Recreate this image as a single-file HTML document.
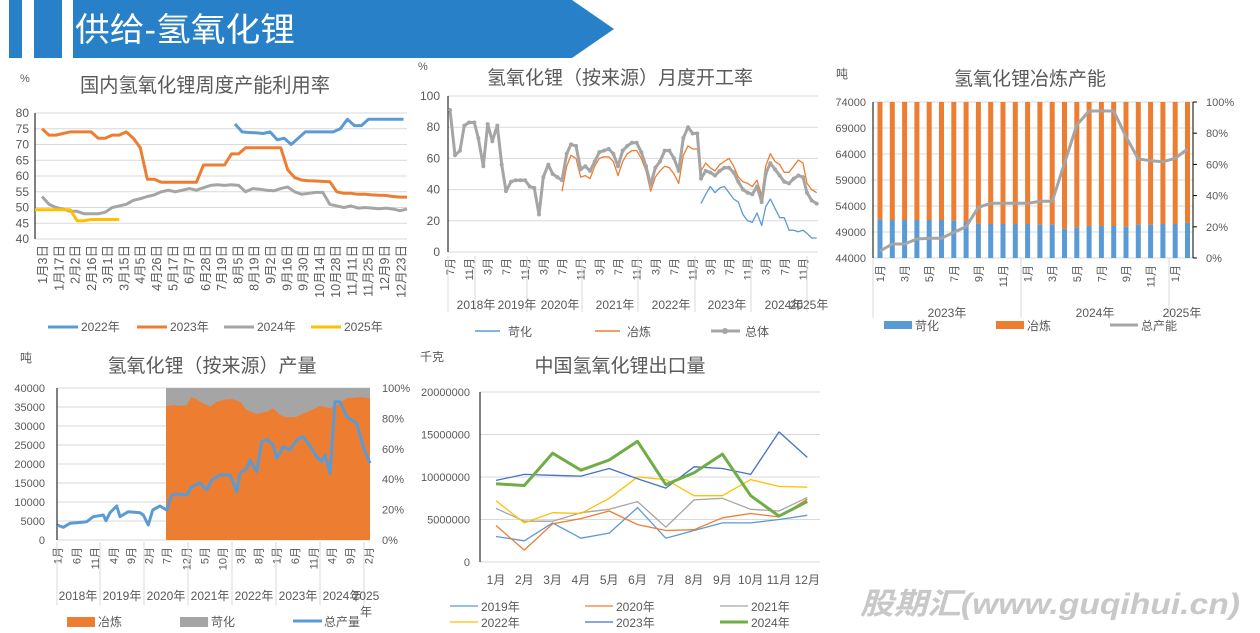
<!DOCTYPE html>
<html><head><meta charset="utf-8">
<style>
body{margin:0;width:1260px;height:633px;background:#fff;overflow:hidden;font-family:"Liberation Sans","Noto Sans CJK SC",sans-serif;}
svg{position:absolute;left:0;top:0}
</style></head><body>
<svg id="s" width="1260" height="633" xmlns="http://www.w3.org/2000/svg" font-family="Liberation Sans, Noto Sans CJK SC, sans-serif">
<rect x="9" y="0" width="13" height="58" fill="#2880c8"/>
<rect x="34" y="0" width="28" height="58" fill="#2880c8"/>
<polygon points="73,0 572,0 614,29 572,58 73,58" fill="#2880c8"/>
<text x="75" y="41" font-size="33" fill="#fff" textLength="220" lengthAdjust="spacingAndGlyphs">供给-氢氧化锂</text>
<text x="860" y="614" font-size="30" font-weight="bold" font-style="italic" fill="#c8c8c8" textLength="380" lengthAdjust="spacingAndGlyphs">股期汇(www.guqihui.cn)</text>
</svg>
<script>
const S=document.getElementById('s');let H='';
function T(x,y,t,sz,c,anc,extra){H+=`<text x="${x}" y="${y}" font-size="${sz||11}" fill="${c||'#595959'}" text-anchor="${anc||'start'}" ${extra||''}>${t}</text>`;}
function L(x1,y1,x2,y2,c,w){H+=`<line x1="${x1}" y1="${y1}" x2="${x2}" y2="${y2}" stroke="${c}" stroke-width="${w||1}"/>`;}
function P(pts,c,w){H+=`<polyline points="${pts.map(p=>p[0].toFixed(1)+','+p[1].toFixed(1)).join(' ')}" fill="none" stroke="${c}" stroke-width="${w}" stroke-linejoin="round"/>`;}
function R(x,y,w,h,c){H+=`<rect x="${x}" y="${y}" width="${w}" height="${h}" fill="${c}"/>`;}
function VT(x,y,t,sz){H+=`<text x="${x}" y="${y}" font-size="${sz||11}" fill="#595959" text-anchor="end" transform="rotate(-90 ${x} ${y})">${t}</text>`;}
// Chart1
T(20,82,'%',11);T(205,92,'国内氢氧化锂周度产能利用率',20,'#595959','middle','textLength="250" lengthAdjust="spacingAndGlyphs"');
{const y0=239,k=3.15;const Y=v=>y0-(v-40)*k;
for(let v=40;v<=80;v+=5){L(35,Y(v),407,Y(v),'#d9d9d9');T(29,Y(v)+4,v,12,'#595959','end');}
L(35,113,35,239,'#000');
const X=i=>42+i*7.02;
const labs=['1月3日','1月17日','2月2日','2月16日','3月1日','3月15日','4月5日','4月26日','5月17日','6月7日','6月28日','7月19日','8月5日','8月19日','9月2日','9月16日','9月30日','10月14日','10月28日','11月11日','11月25日','12月9日','12月23日'];
labs.forEach((l,j)=>VT(X(j*2.32)+5,245,l,12.5));
const o=[75,73,73,73.5,74,74,74,74,72,72,73,73,74,72,69,59,59,58,58,58,58,58,58,63.5,63.5,63.5,63.5,67,67,69,69,69,69,69,69,62,59.5,58.7,58.5,58.4,58.3,58.2,55,54.5,54.5,54.2,54.2,54,53.9,53.8,53.5,53.3,53.3];
const b=[76.5,74,73.8,73.7,73.5,74,71.5,72,70,72,74,74,74,74,74,75,78,76,76,78,78,78,78,78,78];
const g=[53.5,51,50,49.5,48.8,48.8,48,48,48,48.5,50,50.5,51,52.3,52.8,53.5,54,55,55.5,55,55.5,56,55.5,56.3,57,57.2,57,57.2,57,55,56,55.8,55.5,55.3,56,56.5,55,54.2,54.5,54.8,54.8,51,50.5,50,50.5,49.8,50,49.8,49.6,49.8,49.5,49,49.5];
const yl=[49.3,49.3,49.3,49.3,49.3,45.8,45.8,46.2,46.2,46.2,46.2,46.2];
P(g.map((v,i)=>[X(i),Y(v)]),'#a5a5a5',3);
P(o.map((v,i)=>[X(i),Y(v)]),'#ed7d31',3);
P(b.map((v,i)=>[X(i+27.5),Y(v)]),'#5b9bd5',3);
P(yl.map((v,i)=>[X(i)-(i==0?7:0),Y(v)]),'#ffc000',3);
[['2022年','#5b9bd5',48],['2023年','#ed7d31',137],['2024年','#a5a5a5',224],['2025年','#ffc000',311]].forEach(a=>{L(a[2],327,a[2]+30,327,a[1],3);T(a[2]+33,331,a[0],12);});
}
// Chart2
T(418,70,'%',11);T(620,84,'氢氧化锂（按来源）月度开工率',19,'#595959','middle');
{const Y=v=>252-v*1.56;
for(let v=0;v<=100;v+=20){L(448,Y(v),818,Y(v),'#d9d9d9');T(440,Y(v)+4,v,12,'#595959','end');}
L(448,96,448,252,'#000');
const X=z=>415+z/3;
const gz=[[105,91],[120,62],[135,65],[148,81],[162,83],[178,83],[190,73],[205,55],[218,82],[232,71],[247,81],[260,56],[273,39],[288,45],[302,46],[316,46],[330,46],[344,42],[358,41],[372,24],[385,48],[400,56],[413,50],[427,48],[441,46],[455,63],[468,69],[483,68],[497,53],[511,55],[525,52],[539,58],[553,64],[567,65],[581,66],[595,63],[609,55],[623,65],[637,68],[651,70],[665,70],[679,64],[693,55],[707,43],[721,54],[735,58],[749,65],[763,65],[777,60],[791,52],[805,73],[819,80],[833,76],[847,76],[858,47],[872,52],[886,51],[900,49],[914,52],[928,54],[942,54],[956,51],[970,45],[984,40],[998,38],[1012,37],[1026,42],[1040,32],[1052,50],[1066,57],[1080,53],[1094,49],[1108,45],[1122,44],[1136,47],[1150,49],[1164,48],[1176,38],[1190,33],[1205,31]];
const oz=[[441,39],[455,55],[468,62],[483,60],[497,48],[511,49],[525,47],[539,55],[553,60],[567,61],[581,61],[595,58],[609,49],[623,58],[637,63],[651,65],[665,65],[679,60],[693,52],[707,39],[721,48],[735,52],[749,55],[763,54],[777,50],[791,44],[805,62],[819,68],[833,66],[847,66],[858,52],[872,57],[886,54],[900,52],[914,56],[928,58],[942,60],[956,55],[970,48],[984,45],[998,44],[1012,42],[1026,46],[1040,36],[1052,55],[1066,63],[1080,58],[1094,56],[1108,51],[1122,51],[1136,55],[1150,59],[1164,57],[1176,44],[1190,40],[1205,38]];
const bz=[[858,31],[872,37],[886,42],[900,38],[914,41],[928,42],[942,38],[956,34],[970,32],[984,24],[998,20],[1012,19],[1026,25],[1040,17],[1052,29],[1066,34],[1080,28],[1094,22],[1108,22],[1122,14],[1136,14],[1150,13],[1164,14],[1176,12],[1190,9],[1205,9]];
P(bz.map(p=>[X(p[0]),Y(p[1])]),'#5b9bd5',1.3);
P(oz.map(p=>[X(p[0]),Y(p[1])]),'#ed7d31',1.3);
P(gz.map(p=>[X(p[0]),Y(p[1])]),'#a5a5a5',3);
gz.forEach(p=>H+=`<circle cx="${X(p[0])}" cy="${Y(p[1])}" r="2" fill="#a5a5a5"/>`);
const ml=['7月','11月','3月','7月','11月','3月','7月','11月','3月','7月','11月','3月','7月','11月','3月','7月','11月','3月','7月','11月'];
const mz=[105,162,218,273,330,385,441,497,553,609,665,721,777,833,886,942,998,1052,1108,1164];
ml.forEach((m,i)=>VT(X(mz[i])+4,258,m,11));
[[448,302],[475,302],[527,302],[582,302],[638,302],[695,302],[751,302],[807,302]].forEach(p=>L(p[0],256,p[0],p[1]+10,'#d9d9d9'));
[['2018年',476],['2019年',517],['2020年',560],['2021年',615],['2022年',671],['2023年',727],['2024年',784],['2025年',809]].forEach(a=>T(a[1],309,a[0],12,'#595959','middle'));
L(475,331,500,331,'#5b9bd5',1.5);T(508,336,'苛化',12);
L(595,331,620,331,'#ed7d31',1.5);T(627,336,'冶炼',12);
L(711,331,740,331,'#a5a5a5',3);H+=`<circle cx="725" cy="331" r="3" fill="#a5a5a5"/>`;T(745,336,'总体',12);
}
// Chart3
T(836,78,'吨',12);T(1030,85,'氢氧化锂冶炼产能',19,'#595959','middle');
{const Y=v=>258-(v-44000)*156/30000;
[44000,49000,54000,59000,64000,69000,74000].forEach(v=>{L(873,Y(v),1193,Y(v),'#d9d9d9');T(866,Y(v)+4,v,11,'#595959','end');});
['0%','20%','40%','60%','80%','100%'].forEach((t,i)=>{const y=258-i*31.2;L(1193,y,1197,y,'#000');T(1206,y+4,t,11);});
L(873,102,873,258,'#000');L(1193,102,1193,258,'#000');
const bt=[478,480,480,480,480,480,482,484,490,492,492,492,492,494,494,506,502,498,498,498,500,494,494,492,492,488];
const gl=[573,552,552,537,535,535,517,500,442,430,430,430,430,424,424,310,195,153,153,153,230,297,302,305,295,267];
const X=i=>880+i*12.3;
bt.forEach((z,i)=>{const yb=60+z/3;R(X(i)-2.5,102,5,yb-102,'#ed7d31');R(X(i)-2.5,yb,5,258-yb,'#5b9bd5');});
P(gl.map((z,i)=>[X(i),60+z/3]),'#a5a5a5',3);
['1月','3月','5月','7月','9月','11月','1月','3月','5月','7月','9月','11月','1月'].forEach((m,j)=>VT(X(j*2)+4,265,m,11));
L(873,258,873,318,'#d9d9d9');L(1021,258,1021,318,'#d9d9d9');L(1169,258,1169,318,'#d9d9d9');
T(947,317,'2023年',12,'#595959','middle');T(1095,317,'2024年',12,'#595959','middle');T(1182,317,'2025年',12,'#595959','middle');
R(884,321,28,8,'#5b9bd5');T(915,330,'苛化',12);R(996,321,28,8,'#ed7d31');T(1027,330,'冶炼',12);
L(1110,325,1138,325,'#a5a5a5',3);T(1141,330,'总产能',12);
}
// Chart4
T(20,362,'吨',12);T(212,372,'氢氧化锂（按来源）产量',19,'#595959','middle');
{const Y=v=>540-v*152/40000;
for(let v=0;v<=40000;v+=5000){L(57,Y(v),370,Y(v),'#d9d9d9');T(45,Y(v)+4,v,11,'#595959','end');}
['0%','20%','40%','60%','80%','100%'].forEach((t,i)=>T(382,540-i*30.4+4,t,11));
R(166,388,204,152,'#a5a5a5');
const oz=[[498,198],[520,195],[545,198],[560,195],[575,172],[590,178],[600,185],[630,200],[650,185],[680,178],[700,178],[720,185],[740,210],[770,222],[800,215],[820,205],[840,225],[860,232],[890,230],[910,220],[930,212],[960,198],[990,205],[1010,195],[1040,175],[1080,172],[1110,175]];
H+=`<polygon points="166,540 ${oz.map(p=>(p[0]/3).toFixed(1)+','+(340+p[1]/3).toFixed(1)).join(' ')} 370,540" fill="#ed7d31"/>`;
L(57,388,57,540,'#000');
const bz=[[172,555],[190,562],[210,550],[230,548],[260,545],[280,530],[310,525],[318,542],[330,518],[350,498],[360,530],[385,515],[420,518],[430,525],[445,555],[458,510],[480,498],[500,510],[515,465],[530,462],[560,465],[575,440],[600,428],[620,450],[635,420],[660,405],[690,405],[710,455],[720,400],[740,385],[750,360],[770,395],[785,305],[800,298],[820,315],[830,355],[850,320],[870,330],[890,300],[910,290],[930,318],[950,350],[965,365],[975,345],[990,400],[1005,185],[1020,185],[1040,230],[1070,250],[1090,320],[1110,370]];
P(bz.map(p=>[p[0]/3,340+p[1]/3]),'#5b9bd5',3);
const ml=['1月','6月','11月','4月','9月','2月','7月','12月','5月','10月','3月','8月','1月','6月','11月','4月','9月','2月'];
const mz=[172,230,285,340,393,445,500,560,613,668,722,775,830,885,940,995,1050,1105];
ml.forEach((m,i)=>VT(mz[i]/3+4,547,m,11));
[57,100,144,188,232,276,320,364].forEach(x=>L(x,542,x,605,'#d9d9d9'));
[['2018年',78],['2019年',122],['2020年',166],['2021年',210],['2022年',254],['2023年',298],['2024年',342],['2025',366]].forEach(a=>T(a[1],600,a[0],12,'#595959','middle'));
T(366,616,'年',12,'#595959','middle');
R(67,617,28,10,'#ed7d31');T(98,626,'冶炼',12);R(180,617,28,10,'#a5a5a5');T(211,626,'苛化',12);
L(293,621,322,621,'#5b9bd5',3);T(324,626,'总产量',12);
}
// Chart5
T(420,361,'千克',12);T(620,372,'中国氢氧化锂出口量',19,'#595959','middle');
{const Y=v=>562-v*170/20;
[0,5,10,15,20].forEach(v=>{L(480,Y(v),820,Y(v),'#d9d9d9');T(470,Y(v)+4,v==0?'0':(v*1000000),11,'#595959','end');});
L(480,392,480,562,'#000');
const X=i=>496+i*28.3;
for(let i=0;i<12;i++)T(X(i),584,(i+1)+'月',12,'#595959','middle');
const d=[['2019年','#5b9bd5',[3,2.5,4.6,2.8,3.4,6.4,2.8,3.7,4.6,4.6,5,5.5],1.3],
['2020年','#ed7d31',[4.3,1.4,4.5,5.1,6,4.4,3.7,3.8,5.2,5.7,5.3,7.4],1.3],
['2021年','#a5a5a5',[6.3,4.8,4.8,5.8,6.2,7.1,4.1,7.3,7.5,6.2,6,7.6],1.3],
['2022年','#ffc000',[7.2,4.6,5.8,5.7,7.5,10,9.7,7.8,7.8,9.7,8.9,8.8],1.3],
['2023年','#4472c4',[9.6,10.3,10.2,10.1,11,9.8,8.7,11.2,11,10.3,15.3,12.3],1.3],
['2024年','#70ad47',[9.2,9,12.8,10.8,12,14.2,9.1,10.5,12.7,7.8,5.4,7.1],3]];
const lp=[[450,606],[585,606],[720,606],[450,622],[585,622],[720,622]];
d.forEach((s,k)=>{P(s[2].map((v,i)=>[X(i),Y(v)]),s[1],s[3]);L(lp[k][0],lp[k][1],lp[k][0]+28,lp[k][1],s[1],s[3]);T(lp[k][0]+31,lp[k][1]+5,s[0],12);});
}
S.insertAdjacentHTML('beforeend',H);
</script>
</body></html>
